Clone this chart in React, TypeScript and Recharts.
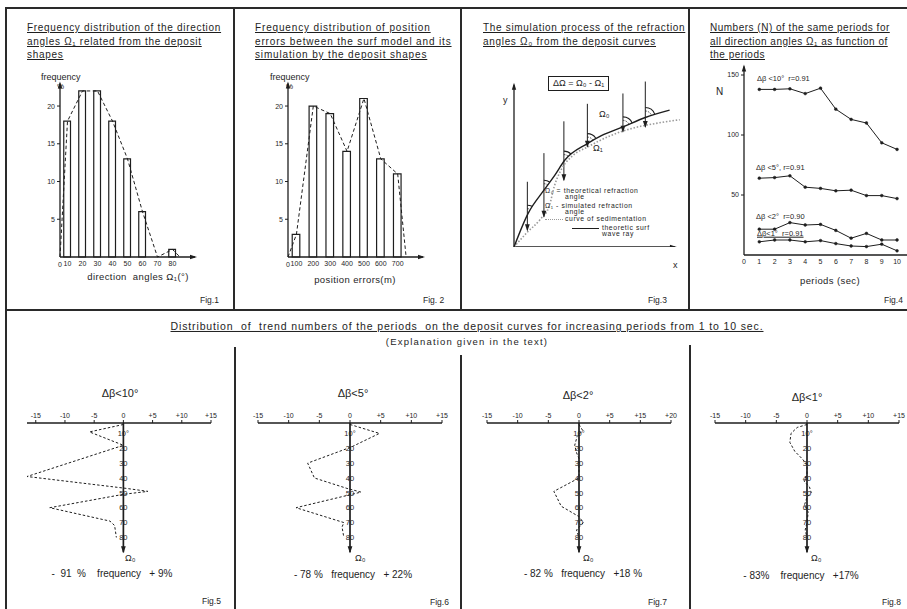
import React from 'react';
import {
  ComposedChart, LineChart, Bar, Line, XAxis, YAxis, ReferenceLine, ReferenceDot,
} from 'recharts';

const FONT = '"Liberation Sans", "DejaVu Sans", sans-serif';
const INK = '#1e1e1e';

// Fig.1 - direction angles (bars centred on 10..80, polygon closes at the bin edges)
const dirAngle = [5, 10, 20, 30, 40, 50, 60, 70, 80, 85];
const dirFreq = [0, 18, 22, 22, 18, 13, 6, 0, 1, 0];
const dirTicks = [10, 20, 30, 40, 50, 60, 70, 80];

// Fig.2 - position errors (m)
const posErr = [50, 100, 200, 300, 400, 500, 600, 700, 750];
const posFreq = [0, 3, 20, 19, 14, 21, 13, 11, 0];
const posTicks = [100, 200, 300, 400, 500, 600, 700];

const freqTicks = [5, 10, 15, 20];

// Fig.3 - schematic of ray / sedimentation curve
const rayX = [0, 0.87, 1.86, 2.53, 3.15, 4.56, 5.43, 6.77, 8.16, 9.67];
const rayY = [0, 2.1, 3.57, 4.5, 5.45, 6.5, 7.0, 7.55, 8.14, 8.6];
const sedX = [0, 0.8, 1.6, 2.2, 2.5, 2.9, 3.6, 4.6, 6.0, 7.5, 9.0, 10.3];
const sedY = [0, 0.9, 1.7, 2.6, 3.8, 4.8, 5.7, 6.3, 7.0, 7.5, 7.8, 8.0];
const normalX = [0.83, 1.86, 3.1, 4.56, 6.77, 8.16];
const normalTop = [4.1, 5.9, 7.9, 9.0, 9.65, 10.4];
const normalBottom = [1.05, 1.9, 4.2, 6.3, 7.25, 7.55];
const normalCross = [2.0, 3.57, 5.4, 6.5, 7.55, 8.14];
const normalTangent = [62, 55, 44, 34, 22, 20]; // degrees

// Fig.4 - numbers N per period
const periods = [1, 2, 3, 4, 5, 6, 7, 8, 9, 10];
const n10 = [138, 138, 138.5, 134.5, 139, 121.5, 113, 110, 93.5, 88];
const n5 = [64, 64.5, 66, 56.5, 55.5, 53.5, 54, 49.5, 49.5, 47];
const n2 = [21.5, 21.5, 27, 25, 25.5, 20.5, 14, 18, 12.5, 12.5];
const n1 = [11, 12.5, 12.5, 11, 12, 9.5, 7.5, 7, 9, 3.5];
const periodTicks = [0, 1, 2, 3, 4, 5, 6, 7, 8, 9, 10];
const nTicks = [50, 100, 150];

// Figs.5-8 - trend numbers vs direction angle
const devTicks = [-15, -10, -5, 0, 5, 10, 15];
const devLabels = ['-15', '-10', '-5', '0', '+5', '+10', '+15'];
const devLabels7 = ['-15', '-10', '-5', '0', '+5', '+15', '+20'];
const angleTicks = [10, 20, 30, 40, 50, 60, 70, 80];
const angleLabels = ['10°', '20', '30', '40', '50', '60', '70', '80'];

const fig5Angle = [4, 9, 18, 39, 47, 49, 51, 60, 69, 72, 80];
const fig5Dev = [0, -5.8, 0, -16.5, 0.5, 4.2, 0, -12.6, -2.3, -1.5, -1.2];
const fig6Angle = [4, 10, 19, 30, 40, 47, 49.5, 60, 70, 73, 80];
const fig6Dev = [0, 4.8, 0.3, -6.9, -5.8, -0.5, 1.8, -8.8, -1, -1.3, -1];
const fig7Angle = [4, 8, 12, 18, 23, 27, 40, 49, 59, 66, 70, 75, 80];
const fig7Dev = [0, 0.6, -0.3, -0.7, -0.4, 0, 0, -4.1, -2.9, 0, 0.7, -0.4, 0];
const fig8Angle = [4, 6, 10, 16, 22, 27, 31, 38, 42, 46, 50, 53, 58, 63, 70, 75, 80];
const fig8Dev = [0, -1.6, -2.6, -2.8, -2, -0.8, 0, 0, -0.5, 0.4, 0.7, 0, -0.4, 0.2, 0, -0.3, 0];

const zip = (xs: number[], ys: number[], kx: string, ky: string) =>
  xs.map((x, i) => ({ [kx]: x, [ky]: ys[i] }));

const upArrow = (p: any) => <path d={`M${p.cx},${p.cy - 2} l-2.2,7 l4.4,0 z`} fill={INK} />;
const rightArrow = (p: any) => <path d={`M${p.cx + 2},${p.cy} l-7,-2.2 l0,4.4 z`} fill={INK} />;
const downArrow = (p: any) => <path d={`M${p.cx},${p.cy + 1} l-2.4,-7 l4.8,0 z`} fill={INK} />;

// angle mark between the upward normal and the ray tangent
const angleArc = (deg: number) => (p: any) => {
  const t = (deg * Math.PI) / 180;
  const arc = (r: number) =>
    `M${p.cx},${p.cy - r} A${r},${r} 0 0 1 ${p.cx + r * Math.cos(t)},${p.cy - r * Math.sin(t)}`;
  return (
    <g fill="none" stroke={INK}>
      <path d={arc(10)} strokeWidth={1.1} />
      <path d={arc(6.5)} strokeWidth={0.8} strokeDasharray="1.5 1.2" />
    </g>
  );
};

const tickStyle = { fontSize: 7, fill: INK, fontFamily: FONT };

function Txt({ x, y, size = 9, anchor = 'start', children, style }: any) {
  const tx = anchor === 'middle' ? '-50%' : anchor === 'end' ? '-100%' : '0';
  return (
    <div
      style={{
        position: 'absolute', left: x, top: y, fontSize: size, lineHeight: 1.15,
        whiteSpace: 'pre', color: INK, transform: `translate(${tx}, -50%)`, ...style,
      }}
    >
      {children}
    </div>
  );
}

function Rule({ x, y, w, h }: any) {
  return <div style={{ position: 'absolute', left: x, top: y, width: w, height: h, background: '#2a2a2a' }} />;
}

function Title({ x, y, lines, spacing }: { x: number; y: number; lines: string[]; spacing: number }) {
  return (
    <div style={{ position: 'absolute', left: x, top: y, fontSize: 10, lineHeight: '13.5px', color: INK, letterSpacing: spacing }}>
      {lines.map((l) => (
        <div key={l} style={{ textDecoration: 'underline', whiteSpace: 'pre' }}>{l}</div>
      ))}
    </div>
  );
}

function Histogram({ left, xs, fs, xDomain, ticks, barSize }: any) {
  const rows = zip(xs, fs, 'x', 'f');
  return (
    <div style={{ position: 'absolute', left, top: 75 }}>
      <ComposedChart width={180} height={200} data={rows} margin={{ top: 8.4, right: 5, bottom: 2, left: 0 }}>
        <XAxis
          type="number" dataKey="x" domain={xDomain} ticks={ticks} interval={0} height={16}
          tick={tickStyle} tickSize={2} tickLine={false} axisLine={{ stroke: INK, strokeWidth: 1.3 }}
        />
        <YAxis
          type="number" domain={[0, 23]} ticks={freqTicks} width={40} tick={tickStyle}
          tickSize={3} tickLine={{ stroke: INK }} axisLine={{ stroke: INK, strokeWidth: 1.3 }}
        />
        <Bar dataKey="f" barSize={barSize} fill="none" stroke={INK} strokeWidth={1.2} isAnimationActive={false} />
        <Line
          dataKey="f" type="linear" stroke={INK} strokeWidth={1} strokeDasharray="3.5 2.5"
          dot={false} isAnimationActive={false}
        />
        <ReferenceDot x={xDomain[0]} y={0} r={0} label={{ value: '0', position: 'bottom', offset: 5, fontSize: 7, fill: INK }} />
        <ReferenceDot x={xDomain[0]} y={23} shape={upArrow} />
        <ReferenceDot x={xDomain[1]} y={0} shape={rightArrow} />
      </ComposedChart>
    </div>
  );
}

function DevChart({ left, angles, devs, labels }: any) {
  const rows = zip(angles, devs, 'a', 'd');
  return (
    <div style={{ position: 'absolute', left, top: 400 }}>
      <LineChart layout="vertical" width={214} height={158} data={rows} margin={{ top: 9, right: 15, bottom: 5.7, left: 15 }}>
        <XAxis
          type="number" orientation="top" domain={[-15, 15]} ticks={devTicks} interval={0} height={14}
          tickFormatter={(v: number) => labels[devTicks.indexOf(v)]} tick={tickStyle} tickSize={3}
          tickLine={{ stroke: INK }} axisLine={{ stroke: INK, strokeWidth: 1.5 }}
        />
        <YAxis type="number" dataKey="a" domain={[3, 90]} hide />
        <ReferenceLine x={0} stroke={INK} strokeWidth={1.7} />
        {angleTicks.map((a, i) => (
          <ReferenceDot
            key={a} x={0} y={a} r={0}
            label={{ value: angleLabels[i], position: 'center', fontSize: 7.5, fill: INK }}
          />
        ))}
        <ReferenceDot x={0} y={90} shape={downArrow} />
        <Line
          dataKey="d" type="linear" stroke={INK} strokeWidth={1} strokeDasharray="2.5 2"
          dot={false} isAnimationActive={false}
        />
      </LineChart>
    </div>
  );
}

export default function App() {
  const rayRows = zip(rayX, rayY, 'x', 'y');
  const sedRows = zip(sedX, sedY, 'x', 'y');
  const nRows = periods.map((p, i) => ({ p, n10: n10[i], n5: n5[i], n2: n2[i], n1: n1[i] }));
  const nDot = { r: 1.4, fill: INK, stroke: INK, strokeWidth: 0.5 };

  return (
    <div style={{ position: 'absolute', left: 0, top: 0, width: 907, height: 609, background: '#fff', overflow: 'hidden', fontFamily: FONT, color: INK }}>
      {/* frame */}
      <Rule x={6} y={7} w={901} h={2} />
      <Rule x={5} y={7} w={2} h={602} />
      <Rule x={6} y={309} w={901} h={2} />
      <Rule x={233} y={8} w={2} h={302} />
      <Rule x={460} y={8} w={2} h={302} />
      <Rule x={688} y={8} w={2} h={302} />
      <Rule x={234} y={347} w={2} h={262} />
      <Rule x={460} y={355} w={2} h={254} />
      <Rule x={689} y={345} w={2} h={264} />

      {/* Fig.1 */}
      <Title x={27} y={21} spacing={0.7} lines={['Frequency distribution of the direction', 'angles Ω₁ related from the deposit', 'shapes']} />
      <Txt x={41} y={77} size={9}>frequency</Txt>
      <Txt x={57} y={87} size={8}>%</Txt>
      <Histogram left={20} xs={dirAngle} fs={dirFreq} xDomain={[5, 95]} ticks={dirTicks} barSize={14.5} />
      <Txt x={138} y={277} size={9.5} anchor="middle" style={{ letterSpacing: 0.4 }}>direction  angles Ω₁(°)</Txt>
      <Txt x={200} y={301} size={8.5}>Fig.1</Txt>

      {/* Fig.2 */}
      <Title x={255} y={21} spacing={0.85} lines={['Frequency distribution of position', 'errors between the surf model and its', 'simulation by the deposit shapes']} />
      <Txt x={270} y={77} size={9}>frequency</Txt>
      <Txt x={286} y={87} size={8}>%</Txt>
      <Histogram left={248} xs={posErr} fs={posFreq} xDomain={[50, 850]} ticks={posTicks} barSize={14.5} />
      <Txt x={355} y={280} size={9.5} anchor="middle" style={{ letterSpacing: 0.4 }}>position errors(m)</Txt>
      <Txt x={423} y={301} size={8.5}>Fig. 2</Txt>

      {/* Fig.3 */}
      <Title x={483} y={21} spacing={0.68} lines={['The simulation process of the refraction', 'angles Ω₀ from the deposit curves']} />
      <div style={{ position: 'absolute', left: 548, top: 76, border: `1.2px solid ${INK}`, padding: '1px 4px', fontSize: 9, lineHeight: '11px' }}>
        ΔΩ = Ω₀ - Ω₁
      </div>
      <div style={{ position: 'absolute', left: 500, top: 70 }}>
        <LineChart width={191} height={177} margin={{ top: 2, right: 0, bottom: 0, left: 14 }}>
          <XAxis type="number" dataKey="x" domain={[0, 11]} hide />
          <YAxis type="number" domain={[0, 11]} hide />
          <ReferenceLine segment={[{ x: 0, y: 0 }, { x: 10, y: 0 }]} stroke={INK} strokeWidth={1.3} />
          <ReferenceLine segment={[{ x: 0, y: 0 }, { x: 0, y: 10.2 }]} stroke={INK} strokeWidth={1.3} />
          <ReferenceDot x={0} y={10.2} shape={upArrow} />
          <ReferenceDot x={10} y={0} shape={rightArrow} />
          {normalX.map((x, i) => (
            <ReferenceLine
              key={`n${x}`} segment={[{ x, y: normalTop[i] }, { x, y: normalBottom[i] }]}
              stroke={INK} strokeWidth={1}
            />
          ))}
          {normalX.map((x, i) => (
            <ReferenceDot key={`a${x}`} x={x} y={normalBottom[i]} shape={downArrow} />
          ))}
          {normalX.map((x, i) => (
            <ReferenceDot key={`c${x}`} x={x} y={normalCross[i]} shape={angleArc(normalTangent[i])} />
          ))}
          <Line data={sedRows} dataKey="y" type="monotone" stroke="#9a9a9a" strokeWidth={1.6} strokeDasharray="1.5 1.8" dot={false} isAnimationActive={false} />
          <Line data={rayRows} dataKey="y" type="monotone" stroke={INK} strokeWidth={1.4} dot={false} isAnimationActive={false} />
        </LineChart>
      </div>
      <Txt x={503} y={100} size={9}>y</Txt>
      <Txt x={673} y={265} size={9}>x</Txt>
      <Txt x={599} y={114} size={9}>Ω₀</Txt>
      <Txt x={593} y={148} size={9}>Ω₁</Txt>
      <div style={{ position: 'absolute', left: 545, top: 188, fontSize: 6.8, lineHeight: '6px', color: INK, letterSpacing: 0.6 }}>
        <div>Ω₀ =  theoretical refraction</div>
        <div style={{ paddingLeft: 20 }}>angle</div>
        <div style={{ marginTop: 3 }}>Ω₁ -  simulated refraction</div>
        <div style={{ paddingLeft: 20 }}>angle</div>
        <div style={{ display: 'flex', alignItems: 'center', marginTop: 1 }}>
          <span style={{ display: 'inline-block', width: 18, borderTop: '1.5px dotted #9a9a9a', marginRight: 2 }} />
          curve of sedimentation
        </div>
        <div style={{ display: 'flex', alignItems: 'center', marginTop: 3, paddingLeft: 27 }}>
          <span style={{ display: 'inline-block', width: 27, borderTop: `1.3px solid ${INK}`, marginRight: 3 }} />
          theoretic surf
        </div>
        <div style={{ paddingLeft: 57 }}>wave ray</div>
      </div>
      <Txt x={648} y={301} size={8.5}>Fig.3</Txt>

      {/* Fig.4 */}
      <Title x={710} y={21} spacing={0.5} lines={['Numbers (N) of the same periods for', 'all direction angles Ω₁ as function of', 'the periods']} />
      <div style={{ position: 'absolute', left: 700, top: 60 }}>
        <LineChart width={207} height={213} data={nRows} margin={{ top: 6.6, right: 0, bottom: 2, left: 0 }}>
          <XAxis
            type="number" dataKey="p" domain={[0, 10.65]} ticks={periodTicks} interval={0} height={16}
            tick={tickStyle} tickSize={2} tickLine={false} axisLine={{ stroke: INK, strokeWidth: 1.3 }}
          />
          <YAxis
            type="number" domain={[0, 157]} ticks={nTicks} width={44} tick={tickStyle}
            tickSize={3} tickLine={{ stroke: INK }} axisLine={{ stroke: INK, strokeWidth: 1.3 }}
          />
          <ReferenceDot x={0} y={157} shape={upArrow} />
          <Line dataKey="n10" type="linear" stroke={INK} strokeWidth={1} dot={nDot} isAnimationActive={false} />
          <Line dataKey="n5" type="linear" stroke={INK} strokeWidth={1} dot={nDot} isAnimationActive={false} />
          <Line dataKey="n2" type="linear" stroke={INK} strokeWidth={1} dot={nDot} isAnimationActive={false} />
          <Line dataKey="n1" type="linear" stroke={INK} strokeWidth={1} dot={nDot} isAnimationActive={false} />
        </LineChart>
      </div>
      <Txt x={716} y={92} size={10}>N</Txt>
      <Txt x={757} y={79} size={7.5}>Δβ &lt;10°  r=0.91</Txt>
      <Txt x={756} y={168} size={7.5}>Δβ &lt;5°, r=0.91</Txt>
      <Txt x={756} y={217} size={7.5}>Δβ &lt;2°  r=0.90</Txt>
      <Txt x={757} y={234} size={7.5} style={{ textDecoration: 'underline' }}>Δβ&lt;1°  r=0.91</Txt>
      <Txt x={830} y={281} size={9.5} anchor="middle" style={{ letterSpacing: 0.4 }}>periods (sec)</Txt>
      <Txt x={884} y={301} size={8.5}>Fig.4</Txt>

      {/* bottom heading */}
      <Txt x={467} y={326} size={10.5} anchor="middle" style={{ textDecoration: 'underline', letterSpacing: 0.87 }}>
        Distribution  of  trend numbers of the periods  on the deposit curves for increasing periods from 1 to 10 sec.
      </Txt>
      <Txt x={467} y={342} size={9.5} anchor="middle" style={{ letterSpacing: 1.2 }}>(Explanation given in the text)</Txt>

      {/* Figs.5-8 */}
      <DevChart left={12} angles={fig5Angle} devs={fig5Dev} labels={devLabels} />
      <DevChart left={243} angles={fig6Angle} devs={fig6Dev} labels={devLabels} />
      <DevChart left={472} angles={fig7Angle} devs={fig7Dev} labels={devLabels7} />
      <DevChart left={700} angles={fig8Angle} devs={fig8Dev} labels={devLabels} />

      <Txt x={120} y={393} size={11} anchor="middle">Δβ&lt;10°</Txt>
      <Txt x={353} y={393} size={11} anchor="middle">Δβ&lt;5°</Txt>
      <Txt x={578} y={395} size={11} anchor="middle">Δβ&lt;2°</Txt>
      <Txt x={807} y={397} size={11} anchor="middle">Δβ&lt;1°</Txt>

      <Txt x={125} y={558} size={9}>Ω₀</Txt>
      <Txt x={355} y={558} size={9}>Ω₀</Txt>
      <Txt x={583} y={558} size={9}>Ω₀</Txt>
      <Txt x={811} y={558} size={9}>Ω₀</Txt>

      <Txt x={112} y={574} size={10} anchor="middle">-  91  %    frequency   + 9%</Txt>
      <Txt x={353} y={575} size={10} anchor="middle">- 78 %   frequency   + 22%</Txt>
      <Txt x={583} y={574} size={10} anchor="middle">- 82 %   frequency   +18 %</Txt>
      <Txt x={801} y={576} size={10} anchor="middle">- 83%    frequency   +17%</Txt>

      <Txt x={202} y={602} size={8.5}>Fig.5</Txt>
      <Txt x={430} y={603} size={8.5}>Fig.6</Txt>
      <Txt x={648} y={603} size={8.5}>Fig.7</Txt>
      <Txt x={882} y={603} size={8.5}>Fig.8</Txt>
    </div>
  );
}
